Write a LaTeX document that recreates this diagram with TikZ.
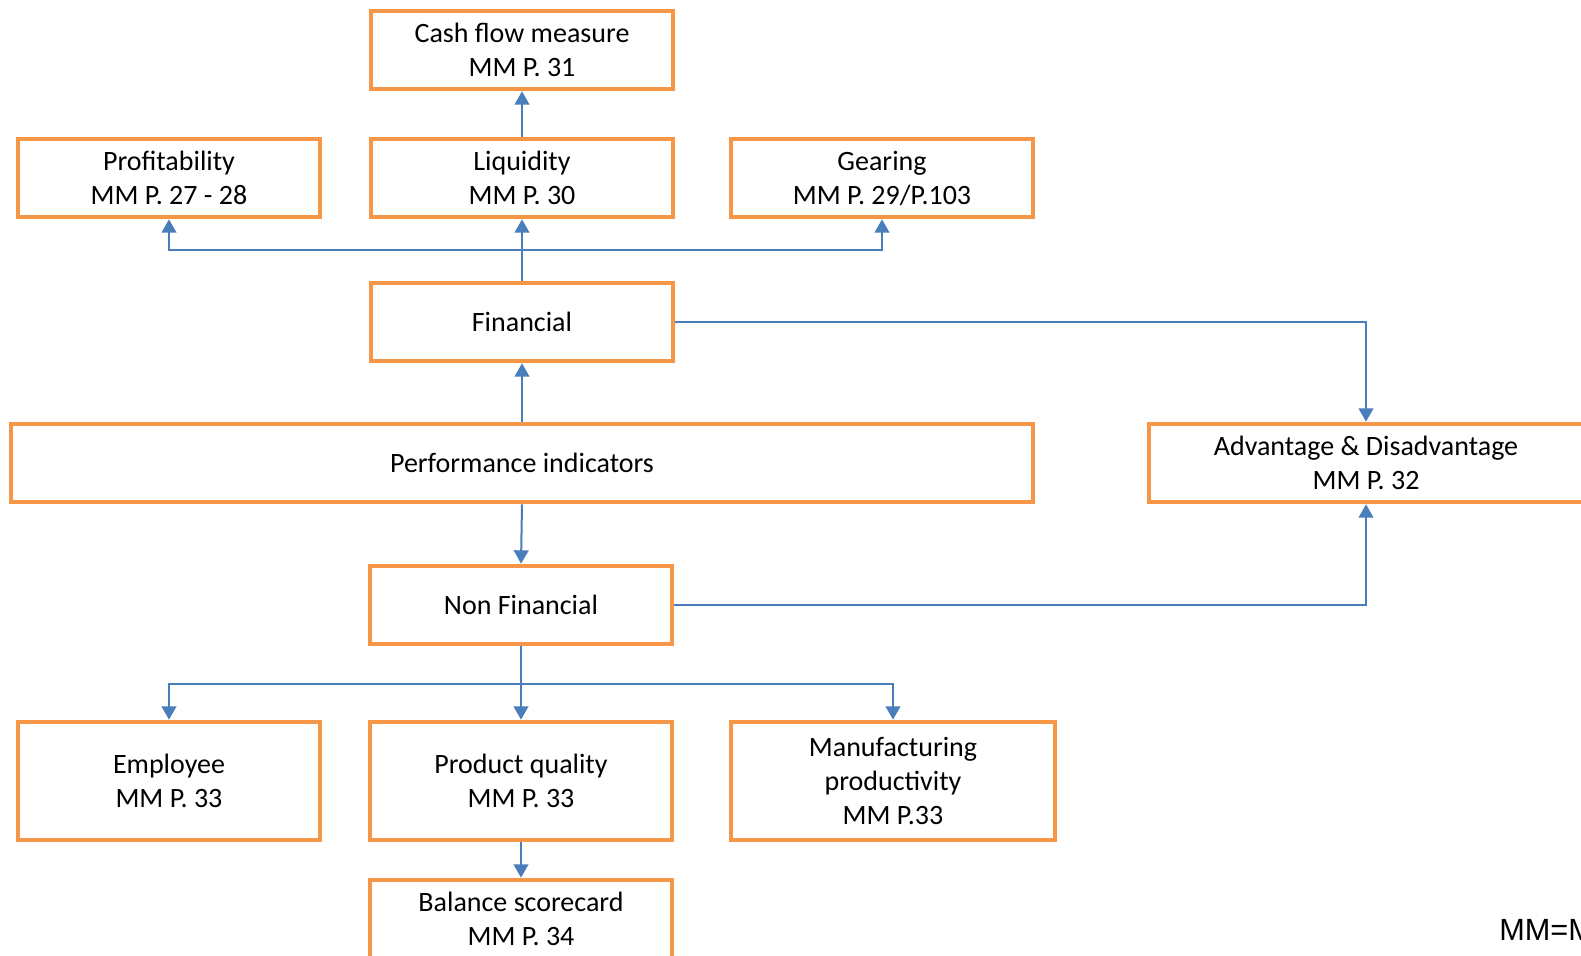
\documentclass[tikz,border=0pt]{standalone}
\usepackage{fontspec}
\setmainfont{Carlito}
\newfontfamily\arialfont{Liberation Sans}
\usetikzlibrary{arrows.meta}
\definecolor{boxorange}{HTML}{F79646}
\definecolor{lineblue}{HTML}{4A7EBB}
\begin{document}
\begin{tikzpicture}[x=0.75pt,y=-0.75pt,
  pbox/.style={draw=boxorange,line width=3pt,fill=white,rectangle,align=center,
    minimum width=226pt,minimum height=59pt,inner sep=2pt,
    font=\fontsize{21}{25.5}\selectfont},
  conn/.style={draw=lineblue,line width=1.5pt},
  arr/.style={conn,-{Triangle[width=11pt,length=10pt]}}]
\useasboundingbox (0,0) rectangle (1581,956);
\clip (0,0) rectangle (1581,956);
\fill[white] (0,0) rectangle (1581,956);
% nodes
\node[pbox] (cash) at (522,50) {Cash flow measure\\MM P. 31};
\node[pbox] (profit) at (169,178) {Profitability\\MM P. 27 - 28};
\node[pbox] (liq) at (522,178) {Liquidity\\MM P. 30};
\node[pbox] (gear) at (882,178) {Gearing\\MM P. 29/P.103};
\node[pbox] (fin) at (522,322) {Financial};
\node[pbox,minimum width=766pt] (perf) at (522,463) {Performance indicators};
\node[pbox,minimum width=326pt] (adv) at (1366,463) {Advantage \& Disadvantage\\MM P. 32};
\node[pbox] (nonfin) at (521,605) {Non Financial};
\node[pbox,minimum height=89pt] (emp) at (169,781) {Employee\\MM P. 33};
\node[pbox,minimum height=89pt] (pq) at (521,781) {Product quality\\MM P. 33};
\node[pbox,minimum height=89pt,minimum width=243pt] (manu) at (893,781) {Manufacturing\\productivity\\MM P.33};
\node[pbox] (bal) at (521,919) {Balance scorecard\\MM P. 34};
\node[anchor=west,inner sep=0pt,font=\arialfont\fontsize{23}{27}\selectfont] (note) at (1499,930) {MM=M};
% coordinates for branching
\coordinate (topbr) at (522,250);
\coordinate (botbr) at (521,684);
% connectors
\draw[arr] (liq.north) -- (cash.south);
\draw[conn] (fin.north) -- (topbr);
\draw[arr] (topbr) -- (liq.south);
\draw[arr] (topbr) -| (profit.south);
\draw[arr] (topbr) -| (gear.south);
\draw[arr] (fin.east) -| (adv.north);
\draw[arr] (perf.north) -- (fin.south);
\draw[arr] (perf.south) -- (nonfin.north);
\draw[arr] (nonfin.east) -| (adv.south);
\draw[conn] (nonfin.south) -- (botbr);
\draw[arr] (botbr) -- (pq.north);
\draw[arr] (botbr) -| (emp.north);
\draw[arr] (botbr) -| (manu.north);
\draw[arr] (pq.south) -- (bal.north);
\end{tikzpicture}
\end{document}
